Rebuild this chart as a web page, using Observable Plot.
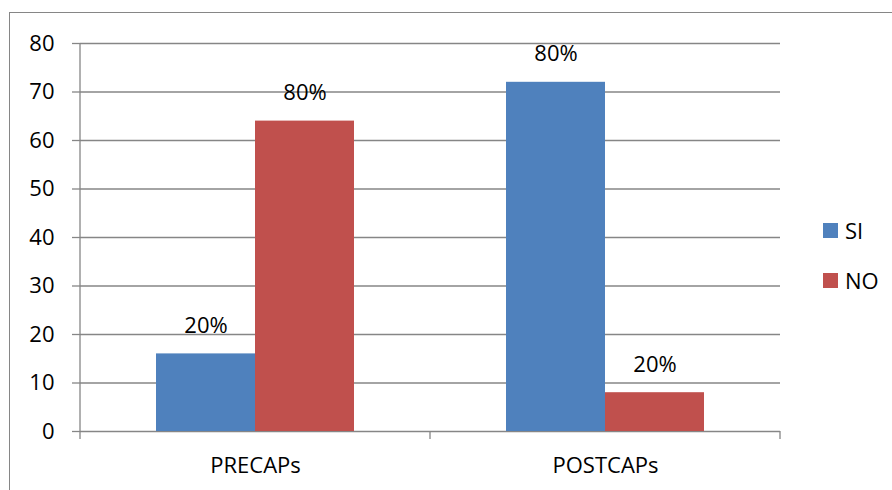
<!DOCTYPE html>
<html><head><meta charset="utf-8">
<script src="https://cdn.jsdelivr.net/npm/d3@7"></script>
<script src="https://cdn.jsdelivr.net/npm/@observablehq/plot@0.6"></script>
<style>
body{margin:0;background:#fff;}
#wrap{position:relative;width:892px;height:490px;overflow:hidden;font-family:"Open Sans",sans-serif;}
#border{position:absolute;left:9px;top:12px;width:900px;height:500px;border-left:1.5px solid #868686;border-top:1.5px solid #868686;}
#chart{position:absolute;left:0;top:0;}
.leg{position:absolute;left:823px;display:flex;align-items:center;font-size:22px;color:#000;}
.leg span.sw{display:inline-block;width:15px;height:15px;margin-right:7px;}
</style></head>
<body>
<div id="wrap"><div id="border"></div><div id="chart"></div><div id="legend"></div></div>
<script>
const categories = ["PRECAPs", "POSTCAPs"];
const series = ["SI", "NO"];
const siValues = [16, 72];
const noValues = [64, 8];
const siLabels = ["20%", "80%"];
const noLabels = ["80%", "20%"];
const yTicks = [0, 10, 20, 30, 40, 50, 60, 70, 80];
const colors = ["#4F81BD", "#C0504D"];

const table = [];
categories.forEach((c, i) => {
  table.push({category: c, series: "SI", value: siValues[i], label: siLabels[i]});
  table.push({category: c, series: "NO", value: noValues[i], label: noLabels[i]});
});

const gray = "#868686";
const plot = Plot.plot({
  width: 892, height: 490,
  marginLeft: 79, marginRight: 112, marginTop: 43, marginBottom: 59,
  style: {fontFamily: '"Open Sans", sans-serif', fontSize: "22px", color: "#000", background: "transparent"},
  fx: {domain: categories, padding: 0, label: null, axis: "bottom", tickSize: 0, tickPadding: 26},
  x: {domain: series, paddingInner: 0, paddingOuter: 0.7525, axis: null},
  y: {domain: [0, 80], ticks: yTicks, label: null, tickSize: 8, tickPadding: 18},
  color: {domain: series, range: colors},
  marks: [
    Plot.ruleY(yTicks, {stroke: gray, strokeWidth: 1.3}),
    Plot.barY(table, {fx: "category", x: "series", y: "value", fill: "series"}),
    Plot.text(table, {fx: "category", x: "series", y: "value", text: "label", dy: -28, fontSize: 22, fill: "#000"})
  ]
});
document.getElementById("chart").appendChild(plot);

// axis lines and category boundary ticks from library scales
const svg = d3.select(plot.tagName === "svg" ? plot : plot.querySelector("svg"));
svg.selectAll('[aria-label="y-axis tick"] path, [aria-label="y-axis tick"]').attr("stroke", gray).attr("stroke-width", 1.3);
const fx = plot.scale("fx"), y = plot.scale("y");
const x0 = fx.apply(categories[0]);
const edges = categories.map(c => fx.apply(c)).concat([fx.apply(categories[categories.length - 1]) + fx.bandwidth]);
svg.append("line").attr("x1", x0).attr("x2", x0).attr("y1", y.apply(80)).attr("y2", y.apply(0))
  .attr("stroke", gray).attr("stroke-width", 1.3);
edges.forEach(e => {
  svg.append("line").attr("x1", e).attr("x2", e).attr("y1", y.apply(0)).attr("y2", y.apply(0) + 8)
    .attr("stroke", gray).attr("stroke-width", 1.3);
});

// legend
const legend = document.getElementById("legend");
const legTops = [230, 280];
series.forEach((s, i) => {
  const d = document.createElement("div");
  d.className = "leg";
  d.style.top = (legTops[i] - 15) + "px";
  d.style.height = "30px";
  d.innerHTML = `<span class="sw" style="background:${colors[i]}"></span><span>${s}</span>`;
  legend.appendChild(d);
});
</script>
</body></html>
